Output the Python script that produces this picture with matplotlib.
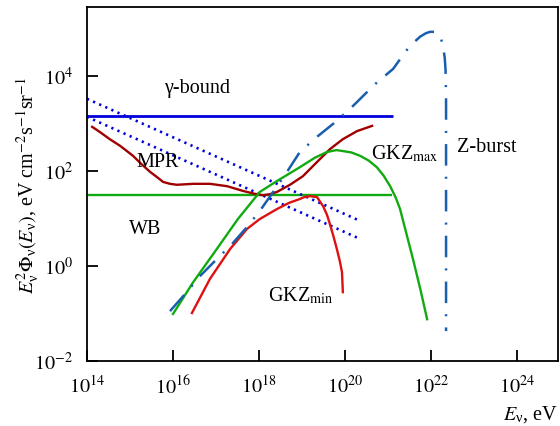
import matplotlib
matplotlib.use("Agg")
import matplotlib.pyplot as plt
import numpy as np

plt.rcParams['font.family'] = ['Liberation Serif', 'DejaVu Serif']
plt.rcParams['mathtext.fontset'] = 'stix'
plt.rcParams['lines.scale_dashes'] = False

# log10 energies (eV) and log10 fluxes
gamma_x = [14.0, 21.12]
gamma_y = [3.16, 3.16]

wb_x = [14.0, 21.1]
wb_y = [1.49, 1.49]

dot1_x = [14.0, 20.3]
dot1_y = [3.52, 0.97]
dot2_x = [14.0, 20.3]
dot2_y = [3.14, 0.59]

mpr_x = [14.12, 14.30, 14.53, 14.77, 15.07, 15.26, 15.47, 15.63, 15.77, 15.93, 16.09,
         16.47, 16.86, 17.26, 17.63, 17.90, 18.09, 18.25, 18.42, 18.72, 19.02, 19.35,
         19.65, 19.95, 20.28, 20.63]
mpr_y = [2.93, 2.82, 2.67, 2.53, 2.32, 2.15, 1.98, 1.87, 1.77, 1.73, 1.71,
         1.73, 1.73, 1.68, 1.58, 1.52, 1.49, 1.51, 1.56, 1.71, 1.89, 2.19,
         2.46, 2.67, 2.84, 2.95]

gkzmax_x = [16.00, 16.47, 17.02, 17.51, 18.02, 18.42, 18.95, 19.30, 19.58, 19.80,
            19.95, 20.15, 20.35, 20.55, 20.74, 20.90, 21.05, 21.18, 21.28, 21.40,
            21.58, 21.75, 21.91]
gkzmax_y = [-1.01, -0.34, 0.36, 0.99, 1.56, 1.79, 2.08, 2.28, 2.40, 2.44,
            2.42, 2.39, 2.32, 2.22, 2.08, 1.90, 1.68, 1.44, 1.20, 0.78,
            0.15, -0.48, -1.12]

gkzmin_x = [16.44, 16.86, 17.33, 17.72, 18.02, 18.42, 18.70, 18.95, 19.05, 19.19,
            19.35, 19.49, 19.58, 19.65, 19.73, 19.81, 19.88, 19.93, 19.95]
gkzmin_y = [-0.99, -0.27, 0.36, 0.78, 0.99, 1.20, 1.33, 1.41, 1.45, 1.47,
            1.45, 1.26, 1.08, 0.88, 0.63, 0.36, 0.10, -0.13, -0.55]

zb_x = [15.93, 16.28, 16.63, 16.98, 17.37, 17.72, 18.02, 18.33, 18.65, 18.95, 19.35,
        19.72, 20.12, 20.70, 21.12, 21.42, 21.58, 21.75, 21.88, 21.98, 22.08, 22.16,
        22.23, 22.28, 22.32, 22.34, 22.35, 22.35]
zb_y = [-0.95, -0.59, -0.21, 0.11, 0.46, 0.82, 1.16, 1.56, 1.98, 2.40, 2.72,
        2.99, 3.31, 3.83, 4.15, 4.53, 4.69, 4.83, 4.90, 4.93, 4.93, 4.88,
        4.80, 4.62, 4.38, 4.10, 3.50, -1.37]

xticks = [14, 16, 18, 20, 22, 24]
yticks = [-2, 0, 2, 4]


def p(a):
    return 10.0 ** np.asarray(a)


fig = plt.figure(figsize=(5.6, 4.27), dpi=100)
ax = fig.add_axes([87 / 560, 1 - 362 / 427, (558 - 87) / 560, (362 - 8) / 427])

blue = '#0000dd'
green = '#11aa11'
darkred = '#a00000'
red = '#dd1111'
zcol = '#1a5fae'

ax.plot(p(gamma_x), p(gamma_y), color=blue, lw=2.0, solid_capstyle='butt')
ax.plot(p(wb_x), p(wb_y), color=green, lw=1.7, solid_capstyle='butt')
ax.plot(p(dot1_x), p(dot1_y), color=blue, lw=1.9, linestyle=(0, (1.6, 3.2)))
ax.plot(p(dot2_x), p(dot2_y), color=blue, lw=1.9, linestyle=(0, (1.6, 3.2)))
ax.plot(p(mpr_x), p(mpr_y), color=darkred, lw=1.7, solid_joinstyle='round')
ax.plot(p(gkzmax_x), p(gkzmax_y), color=green, lw=1.7, solid_joinstyle='round')
ax.plot(p(gkzmin_x), p(gkzmin_y), color=red, lw=1.7, solid_joinstyle='round')
ax.plot(p(zb_x), p(zb_y), color=zcol, lw=1.8, linestyle=(0, (15.5, 8.0, 1.5, 8.0)),
        dash_capstyle='butt')

ax.set_xscale('log')
ax.set_yscale('log')
ax.set_xlim(1e14, 10 ** (14 + 471 / 43))
ax.set_ylim(1e-2, 10 ** (4 + 69 / 47.5))
ax.set_xticks([10.0 ** k for k in xticks])
ax.set_xticklabels([r'$10^{%d}$' % k for k in xticks])
ax.set_yticks([10.0 ** k for k in yticks])
ax.set_yticklabels([r'$10^{%d}$' % k for k in yticks])
ax.minorticks_off()
ax.tick_params(axis='both', which='major', direction='in', length=8, width=1.3,
               labelsize=14.5, pad=10)
for s in ax.spines.values():
    s.set_linewidth(1.3)

fs = 14.5
ax.text(10 ** 16.55, 10 ** 3.75, 'γ-bound', fontsize=fs, ha='center', va='center')
ax.text(10 ** 15.65, 10 ** 2.2, 'MPR', fontsize=fs, ha='center', va='center')
ax.text(10 ** 15.35, 10 ** 0.8, 'WB', fontsize=fs, ha='center', va='center')
ax.text(10 ** 20.6, 10 ** 2.38, r'GKZ$_{\mathrm{max}}$', fontsize=fs, ha='left', va='center')
ax.text(10 ** 22.6, 10 ** 2.52, 'Z-burst', fontsize=fs, ha='left', va='center')
ax.text(10 ** 18.2, 10 ** -0.6, r'GKZ$_{\mathrm{min}}$', fontsize=fs, ha='left', va='center')

nu = r'\mathdefault{ν}'
fig.text(1 - 2 / 560, 1 - 415 / 427, r'$E_{%s}$, eV' % nu, fontsize=fs, ha='right', va='center')
fig.text(28 / 560, 1 - 185 / 427,
         r'$E_{%s}^{2}\Phi_{%s}(E_{%s})$, eV cm$^{-2}$s$^{-1}$sr$^{-1}$' % (nu, nu, nu),
         fontsize=fs, ha='center', va='center', rotation=90)

fig.savefig('out.png', dpi=100)
